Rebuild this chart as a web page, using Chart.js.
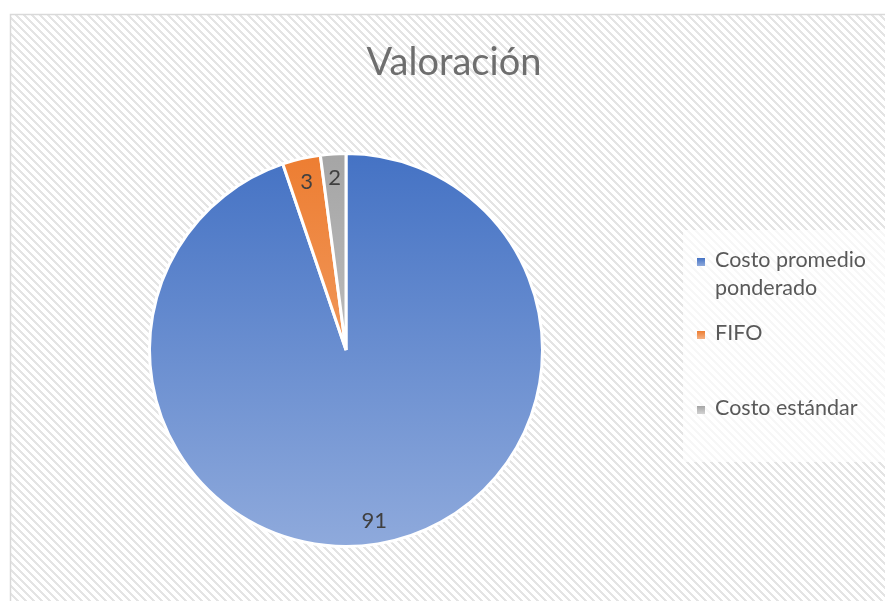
<!DOCTYPE html>
<html>
<head>
<meta charset="utf-8">
<script src="https://cdn.jsdelivr.net/npm/chart.js@4.4.1/dist/chart.umd.min.js"></script>
<style>
html, body { margin: 0; padding: 0; background: #fff; }
canvas { display: block; }
</style>
</head>
<body>
<canvas id="pie-chart" width="885" height="601"></canvas>
<script>
// Valoración - pie chart
const chartTitle = 'Valoración';
const categories = ['Costo promedio ponderado', 'FIFO', 'Costo estándar'];
const legendLines = [['Costo promedio', 'ponderado'], ['FIFO'], ['Costo estándar']];
const values = [91, 3, 2];
const topColors = ['#4472c4', '#ed7d31', '#a5a5a5'];
const bottomColors = ['#8faadc', '#f4b183', '#d2d2d2'];

const FONT = 'Lato, "Open Sans", sans-serif';

// diagonal hatch tile for the chart background
function makeHatch() {
    const tile = document.createElement('canvas');
    tile.width = 8;
    tile.height = 8;
    const tctx = tile.getContext('2d');
    const img = tctx.createImageData(8, 8);
    for (let y = 0; y < 8; y++) {
        for (let x = 0; x < 8; x++) {
            const k = ((x - y) % 8 + 8) % 8;
            const v = k < 3 ? 228 : 255;
            const i = (y * 8 + x) * 4;
            img.data[i] = v; img.data[i + 1] = v; img.data[i + 2] = v; img.data[i + 3] = 255;
        }
    }
    tctx.putImageData(img, 0, 0);
    return tile;
}

function sliceGradient(ctx, i) {
    const chart = ctx.chart;
    const area = chart.chartArea;
    if (!area) return topColors[i];
    const g = chart.ctx.createLinearGradient(0, area.top, 0, area.bottom);
    g.addColorStop(0, topColors[i]);
    g.addColorStop(1, bottomColors[i]);
    return g;
}

const backdropPlugin = {
    id: 'backdrop',
    beforeDraw(chart) {
        const c = chart.ctx;
        c.save();
        c.fillStyle = '#ffffff';
        c.fillRect(0, 0, chart.width, chart.height);
        c.fillStyle = c.createPattern(makeHatch(), 'repeat');
        c.fillRect(11, 15, chart.width - 11, chart.height - 15);
        c.strokeStyle = '#d9d9d9';
        c.lineWidth = 1.5;
        c.beginPath();
        c.moveTo(10.5, chart.height);
        c.lineTo(10.5, 14.5);
        c.lineTo(chart.width, 14.5);
        c.stroke();

        // title
        c.fillStyle = '#6e6e6e';
        c.font = '38px ' + FONT;
        c.textAlign = 'center';
        c.textBaseline = 'alphabetic';
        c.fillText(chartTitle, 454, 75);

        // legend panel
        c.fillStyle = 'rgba(255,255,255,0.7)';
        c.fillRect(683, 230, chart.width - 683, 232);
        c.restore();
    }
};

const overlayPlugin = {
    id: 'overlay',
    afterDraw(chart) {
        const c = chart.ctx;
        const meta = chart.getDatasetMeta(0);
        c.save();

        // data labels
        c.fillStyle = '#404040';
        c.font = '22px ' + FONT;
        c.textAlign = 'center';
        c.textBaseline = 'middle';
        meta.data.forEach((arc, i) => {
            const p = arc.getProps(['x', 'y', 'startAngle', 'endAngle', 'outerRadius'], true);
            const mid = (p.startAngle + p.endAngle) / 2;
            const r = p.outerRadius * 0.88;
            c.fillText(String(values[i]), p.x + Math.cos(mid) * r, p.y + Math.sin(mid) * r);
        });

        // legend
        const baselines = [267, 340, 415];
        c.font = '21.5px ' + FONT;
        c.textAlign = 'left';
        c.textBaseline = 'alphabetic';
        categories.forEach((cat, i) => {
            const by = baselines[i];
            const g = c.createLinearGradient(0, by - 9, 0, by - 1);
            g.addColorStop(0, topColors[i]);
            g.addColorStop(1, bottomColors[i]);
            c.fillStyle = g;
            c.fillRect(697, by - 9, 8, 8);
            c.fillStyle = '#595959';
            legendLines[i].forEach((line, j) => {
                c.fillText(line, 715, by + j * 28);
            });
        });
        c.restore();
    }
};

new Chart(document.getElementById('pie-chart'), {
    type: 'pie',
    data: {
        labels: categories,
        datasets: [{
            data: values,
            backgroundColor: (ctx) => sliceGradient(ctx, ctx.dataIndex),
            borderColor: '#ffffff',
            borderWidth: 3
        }]
    },
    options: {
        responsive: false,
        animation: false,
        devicePixelRatio: 1,
        events: [],
        layout: { padding: { left: 148, right: 341, top: 151, bottom: 52 } },
        plugins: {
            legend: { display: false },
            title: { display: false },
            tooltip: { enabled: false }
        }
    },
    plugins: [backdropPlugin, overlayPlugin]
});
</script>
</body>
</html>
